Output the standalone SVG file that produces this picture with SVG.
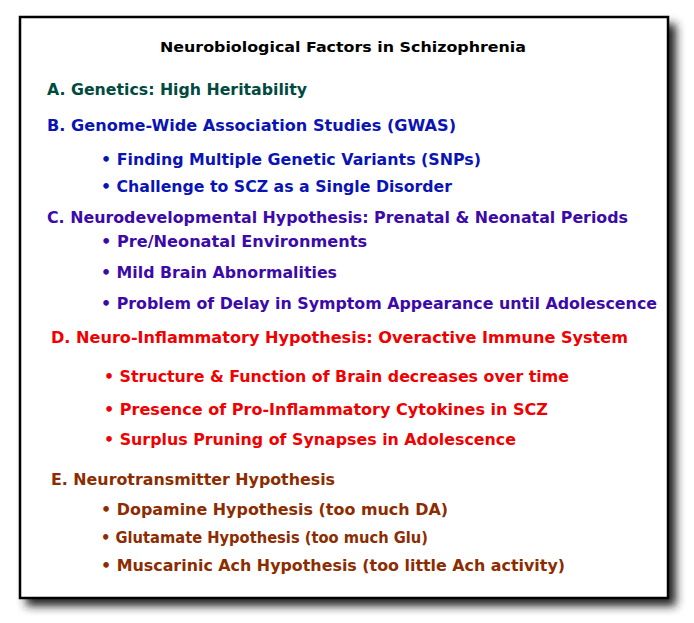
<svg xmlns="http://www.w3.org/2000/svg" width="694" height="623" viewBox="0 0 694 623">
<defs>
<filter id="sh" x="-5%" y="-5%" width="115%" height="115%"><feGaussianBlur stdDeviation="5"/></filter>
<style>
text{font-family:"DejaVu Sans",Verdana,sans-serif;font-weight:bold;font-size:15px}
.a{fill:#004a40}.b{fill:#0a14b4}.c{fill:#3c0aa8}.d{fill:#f00000}.e{fill:#8c2c00}
</style>
</defs>
<rect width="694" height="623" fill="#fff"/>
<rect x="26" y="24" width="650" height="582" fill="#222" filter="url(#sh)"/>
<g id="box"><rect x="20" y="17" width="648" height="581" fill="#fff" stroke="#000" stroke-width="2.5"/></g>
<g id="title"><text x="160" y="52" textLength="366" lengthAdjust="spacingAndGlyphs" style="font-size:14px" fill="#000">Neurobiological Factors in Schizophrenia</text></g>
<g id="A"><text class="a" x="47" y="95" textLength="260" lengthAdjust="spacingAndGlyphs">A. Genetics: High Heritability</text></g>
<g id="B">
<text class="b" x="47" y="131" textLength="409" lengthAdjust="spacingAndGlyphs">B. Genome-Wide Association Studies (GWAS)</text>
<text class="b" x="101" y="165" textLength="380" lengthAdjust="spacingAndGlyphs">• Finding Multiple Genetic Variants (SNPs)</text>
<text class="b" x="101" y="192" textLength="351" lengthAdjust="spacingAndGlyphs">• Challenge to SCZ as a Single Disorder</text>
</g>
<g id="C">
<text class="c" x="47" y="223" textLength="581" lengthAdjust="spacingAndGlyphs">C. Neurodevelopmental Hypothesis: Prenatal &amp; Neonatal Periods</text>
<text class="c" x="101" y="247" textLength="266" lengthAdjust="spacingAndGlyphs">• Pre/Neonatal Environments</text>
<text class="c" x="101" y="278" textLength="236" lengthAdjust="spacingAndGlyphs">• Mild Brain Abnormalities</text>
<text class="c" x="101" y="309" textLength="556" lengthAdjust="spacingAndGlyphs">• Problem of Delay in Symptom Appearance until Adolescence</text>
</g>
<g id="D">
<text class="d" x="51" y="343" textLength="577" lengthAdjust="spacingAndGlyphs">D. Neuro-Inflammatory Hypothesis: Overactive Immune System</text>
<text class="d" x="104" y="382" textLength="465" lengthAdjust="spacingAndGlyphs">• Structure &amp; Function of Brain decreases over time</text>
<text class="d" x="104" y="415" textLength="444" lengthAdjust="spacingAndGlyphs">• Presence of Pro-Inflammatory Cytokines in SCZ</text>
<text class="d" x="104" y="445" textLength="412" lengthAdjust="spacingAndGlyphs">• Surplus Pruning of Synapses in Adolescence</text>
</g>
<g id="E">
<text class="e" x="51" y="485" textLength="284" lengthAdjust="spacingAndGlyphs">E. Neurotransmitter Hypothesis</text>
<text class="e" x="101" y="515" textLength="347" lengthAdjust="spacingAndGlyphs">• Dopamine Hypothesis (too much DA)</text>
<text class="e" x="101" y="543" textLength="327" lengthAdjust="spacingAndGlyphs">• Glutamate Hypothesis (too much Glu)</text>
<text class="e" x="101" y="571" textLength="464" lengthAdjust="spacingAndGlyphs">• Muscarinic Ach Hypothesis (too little Ach activity)</text>
</g>
<g id="connectors"/>
</svg>
